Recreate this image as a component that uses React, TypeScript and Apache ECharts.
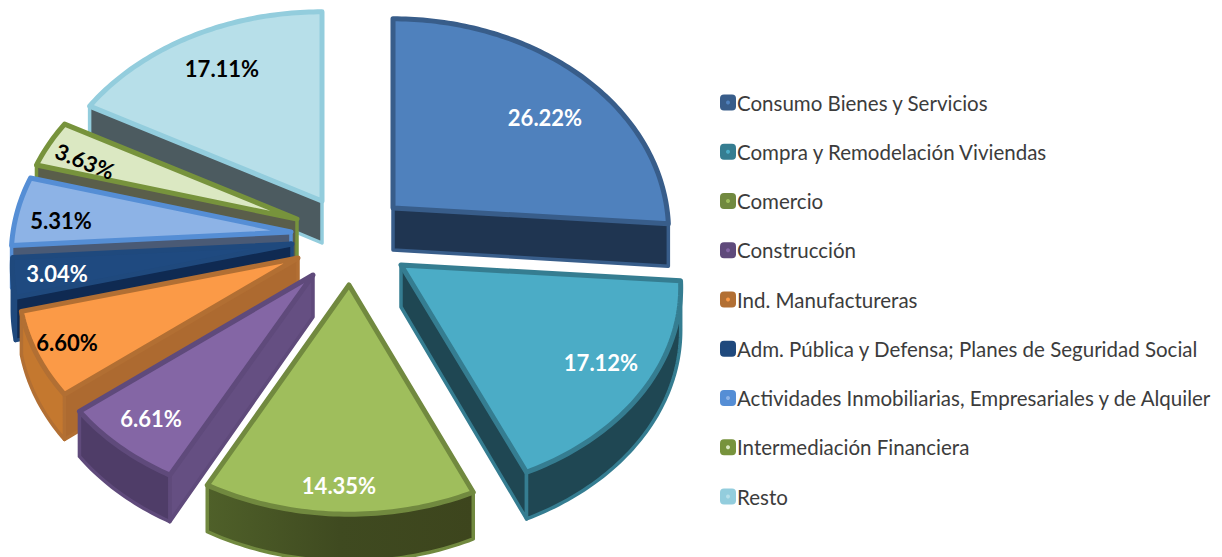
import React, { useEffect, useRef } from "react";
import * as echarts from "echarts";

const categories = [
  "Consumo Bienes y Servicios",
  "Compra y Remodelación Viviendas",
  "Comercio",
  "Construcción",
  "Ind. Manufactureras",
  "Adm. Pública y Defensa; Planes de Seguridad Social",
  "Actividades Inmobiliarias, Empresariales y de Alquiler",
  "Intermediación Financiera",
  "Resto",
];
const values = [26.22, 17.12, 14.35, 6.61, 6.6, 3.04, 5.31, 3.63, 17.11];
const percentLabels = ["26.22%", "17.12%", "14.35%", "6.61%", "6.60%", "3.04%", "5.31%", "3.63%", "17.11%"];

// styling and layout
const topFill = ["#4f81bd", "#4bacc6", "#9fbe5c", "#8466a5", "#fb9a47", "#1f4a80", "#8db3e6", "#dbe8c2", "#b7dfe9"];
const border = ["#385d8a", "#357d91", "#71893f", "#5f4a7b", "#b26f33", "#1f497d", "#558ed5", "#77933c", "#93cddd"];
const cutFill = ["#1f3551", "#1f4753", "#3f4a20", "#654f82", "#ad6a30", "#0f2a52", "#4a5a75", "#5a5e4a", "#4c5b60"];
const arcFill = ["#1f3551", "#1f4753", "#434f22", "#4f3d68", "#c4782f", "#143a6b", "#4a5a75", "#5a5e4a", "#4c5b60"];
const labelColor = ["#fff", "#fff", "#fff", "#fff", "#000", "#fff", "#000", "#000", "#000"];
const apexX = [393, 401, 349, 313, 298, 292, 291, 297, 322];
const apexY = [208, 265, 285, 275, 258, 244, 232, 219, 201];
const scaleX = [0.985, 1, 0.99, 1, 1, 1, 1, 1, 1];
const labelX = [545, 601, 339, 151, 67, 57, 61, 85, 222];
const labelY = [117, 362, 485, 418, 342, 273, 220, 161, 68];
const labelRot = [0, 0, 0, 0, 0, 0, 0, -0.38, 0];
const paintRank = [8, 7, 6, 5, 4, 3, 2, 1, 0];

const R = 278;
const RY_FRONT = 204;
const RY_BACK = 210;
const PERSP = 0.11;
const DEPTH = 42;
const LEGEND_X = 720;
const LEGEND_TOP = 92;
const LEGEND_ROW = 21;
const LEGEND_STEP = 49.25;

const total = values.reduce((a, b) => a + b, 0);

function project(i: number, deg: number) {
  const t = (deg * Math.PI) / 180;
  const u = Math.sin(t);
  const v = -Math.cos(t);
  const s = 1 / (1 - PERSP * v);
  return { x: apexX[i] + R * scaleX[i] * u * s, y: apexY[i] + (v < 0 ? RY_BACK : RY_FRONT) * v * s, s };
}

function renderSlice(i: number) {
  return (_p: any, api: any) => {
    const value = api.value(0);
    let before = 0;
    for (let k = 0; k < i; k++) before += values[k];
    const a0 = (before / total) * 360;
    const a1 = a0 + (value / total) * 360;
    const arc: { x: number; y: number; s: number }[] = [];
    const steps = Math.max(4, Math.ceil(a1 - a0));
    for (let k = 0; k <= steps; k++) arc.push(project(i, a0 + ((a1 - a0) * k) / steps));
    const apex = { x: apexX[i], y: apexY[i], s: 1 };
    const down = (p: { x: number; y: number; s: number }) => [p.x, p.y + DEPTH * p.s];
    const children: any[] = [];
    const wall = (pts: { x: number; y: number; s: number }[], fill: string) => {
      const poly = [...pts.map((p) => [p.x, p.y]), ...pts.slice().reverse().map(down)];
      children.push({
        type: "polygon",
        shape: { points: poly },
        style: { fill, stroke: border[i], lineWidth: 3.5, lineJoin: "round" },
      });
    };
    const first = arc[0];
    const last = arc[arc.length - 1];
    if (first.x < apex.x) wall([apex, first], cutFill[i]);
    if (apex.x < last.x) wall([last, apex], cutFill[i]);
    const vis: typeof arc = [];
    for (let k = 0; k < arc.length; k++) {
      const facing =
        (k < arc.length - 1 && arc[k + 1].x < arc[k].x) || (k > 0 && arc[k].x < arc[k - 1].x);
      if (facing) vis.push(arc[k]);
    }
    if (vis.length > 1) {
      const fill =
        i === 2
          ? new echarts.graphic.LinearGradient(0, 0, 1, 0, [
              { offset: 0, color: "#4f6029" },
              { offset: 0.5, color: "#3f4a20" },
              { offset: 1, color: "#3d451d" },
            ])
          : arcFill[i];
      wall(vis, fill as any);
    }
    const topPts = [[apex.x, apex.y], ...arc.map((p) => [p.x, p.y])];
    children.push({
      type: "polygon",
      shape: { points: topPts },
      style: { fill: topFill[i], stroke: border[i], lineWidth: 5, lineJoin: "round" },
    });
    children.push({
      type: "text",
      x: labelX[i],
      y: labelY[i],
      rotation: labelRot[i],
      style: {
        text: percentLabels[i],
        fill: labelColor[i],
        font: "bold 22px Lato, sans-serif",
        align: "center",
        verticalAlign: "middle",
      },
    });
    return { type: "group", children };
  };
}

export default function App() {
  const ref = useRef<HTMLDivElement>(null);
  useEffect(() => {
    document.body.style.margin = "0";
    const chart = echarts.init(ref.current!, undefined, { renderer: "svg" });
    chart.setOption({
      animation: false,
      backgroundColor: "#ffffff",
      legend: {
        orient: "vertical",
        left: LEGEND_X,
        top: LEGEND_TOP,
        itemWidth: 16,
        itemHeight: 16,
        itemGap: LEGEND_STEP - LEGEND_ROW,
        icon: "roundRect",
        selectedMode: false,
        padding: 0,
        data: categories,
        textStyle: {
          color: "#3c3c3c",
          fontFamily: "Lato, sans-serif",
          fontSize: 20.5,
          lineHeight: 16,
          padding: [0, 0, 0, -4],
        },
      },
      graphic: categories.map((_, i) => ({
        type: "circle",
        z: 100,
        shape: { cx: LEGEND_X + 8, cy: LEGEND_TOP + LEGEND_ROW / 2 + i * LEGEND_STEP, r: 2 },
        style: { fill: topFill[i] },
      })),
      series: categories.map((name, i) => ({
        type: "custom",
        name,
        coordinateSystem: "none",
        z: 2 + paintRank[i],
        itemStyle: { color: border[i] },
        data: [[values[i]]],
        renderItem: renderSlice(i),
      })),
    });
    return () => chart.dispose();
  }, []);
  return <div ref={ref} style={{ position: "fixed", left: 0, top: 0, width: 1222, height: 557 }} />;
}
